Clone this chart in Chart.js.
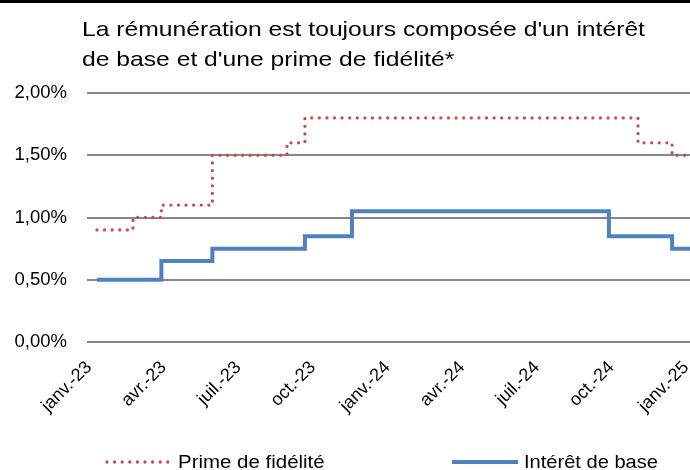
<!DOCTYPE html>
<html><head><meta charset="utf-8">
<script src="https://cdn.jsdelivr.net/npm/chart.js@4"></script>
<style>
html,body{margin:0;padding:0;background:#fff;}
#wrap{position:relative;width:690px;height:470px;overflow:hidden;font-family:"Liberation Sans",Arial,sans-serif;}
#topbar{position:absolute;left:0;top:0;width:690px;height:3px;background:#000;}
#title{position:absolute;left:82px;top:14px;font-size:21px;line-height:30px;color:#000;transform:scaleX(1.175);transform-origin:0 0;white-space:nowrap;}
#c{position:absolute;left:0;top:0;}
.leg{position:absolute;top:452px;font-size:18.6px;line-height:20px;color:#000;white-space:nowrap;transform-origin:0 0;}
.sample{position:absolute;}
</style></head>
<body>
<div id="wrap">
  <canvas id="c" width="690" height="470"></canvas>
  <div id="topbar"></div>
  <div id="title">La rémunération est toujours composée d'un intérêt<br>de base et d'une prime de fidélité*</div>
  <svg class="sample" style="left:100px;top:455px" width="75" height="14"><line x1="7" y1="7" x2="68" y2="7" stroke="#C0504D" stroke-width="3.3" stroke-linecap="round" stroke-dasharray="0 7.6"/></svg>
  <div class="leg" id="leg1" style="left:178px;transform:scaleX(1.1)">Prime de fidélité</div>
  <svg class="sample" style="left:450px;top:455px" width="70" height="14"><line x1="2" y1="7" x2="68" y2="7" stroke="#4F81BD" stroke-width="4"/></svg>
  <div class="leg" id="leg2" style="left:524px;transform:scaleX(1.08)">Intérêt de base</div>
</div>
<script>
// Data (x in months since January 2023, y in %)
const tickMonths = [0, 3, 6, 9, 12, 15, 18, 21, 24];
const tickLabels = ['janv.-23', 'avr.-23', 'juil.-23', 'oct.-23', 'janv.-24', 'avr.-24', 'juil.-24', 'oct.-24', 'janv.-25'];
const yTicks = [0, 0.5, 1, 1.5, 2];
const primeMonths = [0.16, 1.61, 2.75, 4.8, 7.8, 8.52, 21.91, 23.28, 24];
const primeRates  = [0.90, 1.00, 1.10, 1.50, 1.60, 1.80, 1.60, 1.50, 1.50];
const baseMonths  = [0.16, 2.75, 4.8, 8.52, 10.41, 20.74, 23.28, 24];
const baseRates   = [0.50, 0.65, 0.75, 0.85, 1.05, 0.85, 0.75, 0.75];

const toPts = (xs, ys) => xs.map((x, i) => ({x: x, y: ys[i]}));
const FONT = '"Liberation Sans", Arial, sans-serif';

new Chart(document.getElementById('c'), {
  type: 'line',
  data: {
    datasets: [
      {
        label: 'Prime de fidélité',
        data: toPts(primeMonths, primeRates),
        stepped: true,
        borderColor: '#C0504D',
        borderWidth: 3.3,
        borderDash: [0, 7.6],
        borderCapStyle: 'round',
        pointRadius: 0,
        fill: false
      },
      {
        label: 'Intérêt de base',
        data: toPts(baseMonths, baseRates),
        stepped: true,
        borderColor: '#4F81BD',
        borderWidth: 4,
        pointRadius: 0,
        fill: false
      }
    ]
  },
  options: {
    responsive: false,
    animation: false,
    devicePixelRatio: 1,
    layout: {padding: {top: 93, left: 0, right: 0, bottom: 0}},
    plugins: {legend: {display: false}, tooltip: {enabled: false}, title: {display: false}},
    scales: {
      x: {
        type: 'linear',
        min: -0.24,
        max: 24,
        afterBuildTicks: s => { s.ticks = tickMonths.map(v => ({value: v})); },
        afterFit: s => { s.height = 128; s.paddingLeft = 0; s.paddingRight = 0; },
        grid: {display: false, drawTicks: false},
        border: {display: false},
        ticks: {
          autoSkip: false,
          maxRotation: 45,
          minRotation: 45,
          padding: 15,
          labelOffset: -4,
          color: '#000',
          font: {family: FONT, size: 18},
          callback: (v, i) => tickLabels[i]
        }
      },
      y: {
        min: 0,
        max: 2,
        afterBuildTicks: s => { s.ticks = yTicks.map(v => ({value: v})); },
        afterFit: s => { s.width = 87; s.paddingTop = 0; s.paddingBottom = 0; },
        grid: {color: '#878787', lineWidth: 2, drawTicks: false},
        border: {display: false},
        ticks: {
          padding: 20,
          color: '#000',
          font: {family: FONT, size: 18.5},
          callback: v => v.toFixed(2).replace('.', ',') + '%'
        }
      }
    }
  }
});
</script>
</body></html>
